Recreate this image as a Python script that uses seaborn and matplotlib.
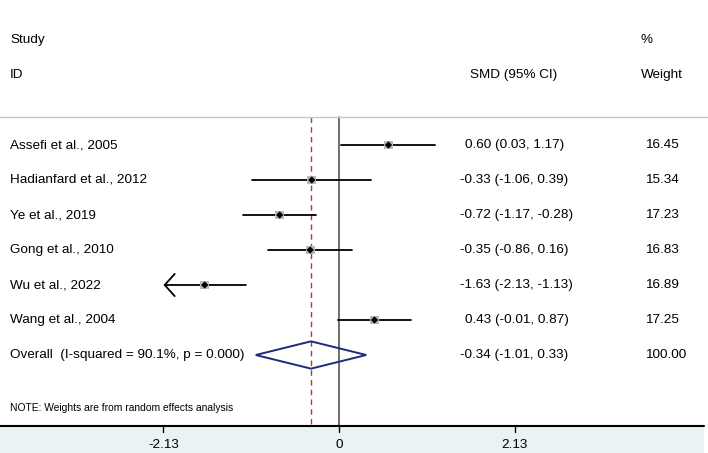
import numpy as np
import pandas as pd
import matplotlib.pyplot as plt
from matplotlib.patches import Polygon, Rectangle
import seaborn as sns

# study level results
studies = ["Assefi et al., 2005", "Hadianfard et al., 2012", "Ye et al., 2019",
           "Gong et al., 2010", "Wu et al., 2022", "Wang et al., 2004"]
smd = [0.60, -0.33, -0.72, -0.35, -1.63, 0.43]
ci_low = [0.03, -1.06, -1.17, -0.86, -2.13, -0.01]
ci_high = [1.17, 0.39, -0.28, 0.16, -1.13, 0.87]
weights = [16.45, 15.34, 17.23, 16.83, 16.89, 17.25]

# pooled estimate
overall_smd = -0.34
overall_low = -1.01
overall_high = 0.33
overall_weight = 100.00
i_squared = 90.1
p_value = 0.000

axis_ticks = [-2.13, 0, 2.13]
axis_min = -2.13  # CIs reaching this get an arrow

sns.set_theme(style="white")
plt.rcParams['font.family'] = ['Liberation Sans', 'DejaVu Sans']
plt.rcParams['text.color'] = 'black'

W, H = 708, 453
X0, PXU = 339, 82.4      # pixel of zero, pixels per SMD unit
Y0, ROW = 145, 35        # pixel of first row, pixels per row


def xd(px):
    """pixel x -> data x"""
    return (px - X0) / PXU


def yd(py):
    """pixel y -> row units"""
    return (py - Y0) / ROW


fig = plt.figure(figsize=(W / 100, H / 100), dpi=100)
ax = fig.add_axes([0, 0, 1, 1])
ax.set_xlim(xd(0), xd(W))
ax.set_ylim(yd(H), yd(0))
ax.axis('off')

rows = np.arange(len(studies))
overall_row = len(studies)
fs = 9.7

# header
ax.text(xd(10), yd(40), "Study", fontsize=fs, va='center')
ax.text(xd(10), yd(75), "ID", fontsize=fs, va='center')
ax.text(xd(470), yd(75), "SMD (95% CI)", fontsize=fs, va='center')
ax.text(xd(641), yd(40), "%", fontsize=fs, va='center')
ax.text(xd(641), yd(75), "Weight", fontsize=fs, va='center')
ax.plot([xd(0), xd(W)], [yd(117), yd(117)], color='#c8c8c8', lw=1)

# reference lines
ax.plot([0, 0], [yd(117), yd(426)], color='#555555', lw=1.2, zorder=1)
ax.plot([overall_smd, overall_smd], [yd(117), yd(426)], color='#b03a3a',
        lw=1, dashes=(4, 3), zorder=1)

# confidence intervals
for r, lo, hi in zip(rows, ci_low, ci_high):
    if lo <= axis_min:
        ax.annotate('', xy=(axis_min, r), xytext=(hi, r),
                    arrowprops=dict(arrowstyle='->,head_length=0.45,head_width=0.5',
                                    lw=1.3, color='black', mutation_scale=16,
                                    shrinkA=0, shrinkB=0))
    else:
        ax.plot([lo, hi], [r, r], color='black', lw=1.3, zorder=2)

df = pd.DataFrame({"smd": smd, "row": rows, "weight": weights})
sns.scatterplot(data=df, x="smd", y="row", marker='s', s=40, color='#b8b8b8',
                edgecolor='none', ax=ax, zorder=3, legend=False)
sns.scatterplot(data=df, x="smd", y="row", marker='D', s=14, color='black',
                edgecolor='none', ax=ax, zorder=4, legend=False)

# pooled diamond
diamond = Polygon([(overall_low, overall_row), (overall_smd, overall_row - 0.39),
                   (overall_high, overall_row), (overall_smd, overall_row + 0.39)],
                  closed=True, fill=False, edgecolor='#1f2a7a', lw=1.4, zorder=3)
ax.add_patch(diamond)

for r, name, e, lo, hi, w in zip(rows, studies, smd, ci_low, ci_high, weights):
    ax.text(xd(10), r, name, fontsize=fs, va='center')
    x_start = 460 if e < 0 else 465
    ax.text(xd(x_start), r, f"{e:.2f} ({lo:.2f}, {hi:.2f})", fontsize=fs, va='center')
    ax.text(xd(645), r, f"{w:.2f}", fontsize=fs, va='center')

ax.text(xd(10), overall_row,
        f"Overall  (I-squared = {i_squared:.1f}%, p = {p_value:.3f})",
        fontsize=fs, va='center')
ax.text(xd(460), overall_row,
        f"{overall_smd:.2f} ({overall_low:.2f}, {overall_high:.2f})",
        fontsize=fs, va='center')
ax.text(xd(645), overall_row, f"{overall_weight:.2f}", fontsize=fs, va='center')

ax.text(xd(10), yd(408), "NOTE: Weights are from random effects analysis",
        fontsize=7.4, va='center')

# bottom axis band
ax.add_patch(Rectangle((xd(0), yd(426)), xd(704) - xd(0), yd(H) - yd(426),
                       facecolor='#eaf2f3', edgecolor='none', zorder=0))
ax.plot([xd(0), xd(704)], [yd(426), yd(426)], color='black', lw=1.5, zorder=5)
for t in axis_ticks:
    ax.plot([t, t], [yd(426), yd(432)], color='black', lw=1, zorder=5)
    ax.text(t, yd(445), f"{t:g}" if t != 0 else "0", fontsize=fs,
            ha='center', va='center')

fig.savefig("out.png", dpi=100)
